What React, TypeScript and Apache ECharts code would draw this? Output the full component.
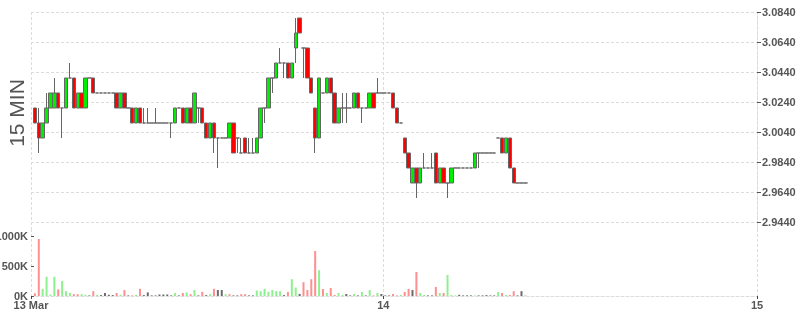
import React, { useEffect, useRef } from "react";
import * as echarts from "echarts";

// x axis is measured in 15-minute slots counted from 13 Mar 00:00
const AXIS_MIN = 5.5;
const AXIS_MAX = 192;
const FIRST_SLOT = 6;
const xTickValues = [5.5, 96, 192];
const xTickLabels = ["13 Mar", "14", "15"];
const priceTicks = [2.944, 2.964, 2.984, 3.004, 3.024, 3.044, 3.064, 3.084];
const volumeTicks = [0, 500, 1000];

// [open, close, low, high]
const ohlc: number[][] = [
  [3.02, 3.01, 3.01, 3.02], [3.01, 3.0, 2.99, 3.02], [3.0, 3.01, 3.0, 3.01], [3.01, 3.02, 3.01, 3.03],
  [3.02, 3.03, 3.02, 3.03], [3.02, 3.03, 3.02, 3.04], [3.03, 3.02, 3.02, 3.03], [3.02, 3.02, 3.0, 3.02],
  [3.02, 3.04, 3.02, 3.04], [3.04, 3.04, 3.04, 3.05], [3.04, 3.02, 3.02, 3.04], [3.02, 3.03, 3.02, 3.03],
  [3.03, 3.02, 3.02, 3.03], [3.02, 3.04, 3.02, 3.04], [3.04, 3.04, 3.04, 3.04], [3.04, 3.03, 3.03, 3.04],
  [3.03, 3.03, 3.03, 3.03], [3.03, 3.03, 3.03, 3.03], [3.03, 3.03, 3.03, 3.03], [3.03, 3.03, 3.03, 3.03],
  [3.03, 3.03, 3.03, 3.03], [3.03, 3.02, 3.02, 3.03], [3.02, 3.03, 3.02, 3.03], [3.03, 3.02, 3.02, 3.03],
  [3.02, 3.02, 3.02, 3.02], [3.02, 3.01, 3.01, 3.02], [3.01, 3.02, 3.01, 3.02], [3.02, 3.01, 3.01, 3.02],
  [3.01, 3.01, 3.01, 3.02], [3.01, 3.01, 3.01, 3.02], [3.01, 3.01, 3.01, 3.01], [3.01, 3.01, 3.01, 3.02],
  [3.01, 3.01, 3.01, 3.01], [3.01, 3.01, 3.01, 3.01], [3.01, 3.01, 3.01, 3.01], [3.01, 3.01, 3.0, 3.01],
  [3.01, 3.02, 3.01, 3.02], [3.02, 3.02, 3.02, 3.02], [3.02, 3.01, 3.01, 3.02], [3.01, 3.02, 3.01, 3.02],
  [3.02, 3.01, 3.01, 3.02], [3.01, 3.03, 3.01, 3.03], [3.02, 3.02, 3.01, 3.02], [3.02, 3.01, 3.01, 3.02],
  [3.01, 3.0, 3.0, 3.01], [3.0, 3.01, 3.0, 3.01], [3.01, 3.0, 2.99, 3.01], [3.0, 3.0, 2.98, 3.0],
  [3.0, 3.0, 3.0, 3.0], [3.0, 3.0, 3.0, 3.0], [3.0, 3.01, 3.0, 3.01], [3.01, 2.99, 2.99, 3.01],
  [3.0, 3.0, 2.99, 3.0], [2.99, 2.99, 2.99, 3.0], [3.0, 2.99, 2.99, 3.0], [2.99, 2.99, 2.99, 3.0],
  [2.99, 2.99, 2.99, 3.0], [2.99, 3.0, 2.99, 3.0], [3.0, 3.02, 3.0, 3.02], [3.02, 3.02, 3.01, 3.02],
  [3.02, 3.04, 3.02, 3.04], [3.04, 3.04, 3.03, 3.04], [3.04, 3.05, 3.04, 3.05], [3.05, 3.05, 3.05, 3.06],
  [3.05, 3.05, 3.04, 3.05], [3.05, 3.04, 3.04, 3.05], [3.04, 3.05, 3.04, 3.05], [3.06, 3.07, 3.05, 3.08],
  [3.08, 3.07, 3.07, 3.08], [3.06, 3.06, 3.04, 3.06], [3.06, 3.04, 3.04, 3.06], [3.04, 3.03, 3.03, 3.04],
  [3.02, 3.0, 2.99, 3.02], [3.0, 3.04, 3.0, 3.04], [3.03, 3.03, 3.03, 3.03], [3.03, 3.04, 3.03, 3.04],
  [3.04, 3.03, 3.03, 3.04], [3.03, 3.01, 3.01, 3.03], [3.01, 3.02, 3.01, 3.02], [3.02, 3.02, 3.01, 3.03],
  [3.02, 3.02, 3.01, 3.03], [3.02, 3.02, 3.02, 3.02], [3.02, 3.03, 3.02, 3.03], [3.03, 3.02, 3.02, 3.03],
  [3.02, 3.02, 3.01, 3.02], [3.02, 3.02, 3.02, 3.02], [3.02, 3.03, 3.02, 3.03], [3.03, 3.02, 3.02, 3.03],
  [3.03, 3.03, 3.03, 3.04], [3.03, 3.03, 3.03, 3.03], [3.03, 3.03, 3.03, 3.03], [3.03, 3.03, 3.03, 3.03],
  [3.03, 3.02, 3.02, 3.03], [3.02, 3.01, 3.01, 3.02], [3.01, 3.01, 3.01, 3.01], [3.0, 2.99, 2.99, 3.0],
  [2.99, 2.98, 2.98, 2.99], [2.97, 2.98, 2.97, 2.98], [2.98, 2.97, 2.96, 2.98], [2.97, 2.98, 2.97, 2.98],
  [2.98, 2.98, 2.98, 2.99], [2.98, 2.98, 2.98, 2.98], [2.98, 2.98, 2.98, 2.99], [2.99, 2.97, 2.97, 2.99],
  [2.97, 2.98, 2.97, 2.98], [2.98, 2.97, 2.97, 2.98], [2.97, 2.97, 2.96, 2.97], [2.97, 2.98, 2.97, 2.98],
  [2.98, 2.98, 2.98, 2.98], [2.98, 2.98, 2.98, 2.98], [2.98, 2.98, 2.98, 2.98], [2.98, 2.98, 2.98, 2.98],
  [2.98, 2.98, 2.98, 2.98], [2.98, 2.99, 2.98, 2.99], [2.99, 2.99, 2.98, 2.99], [2.99, 2.99, 2.99, 2.99],
  [2.99, 2.99, 2.99, 2.99], [2.99, 2.99, 2.99, 2.99], [2.99, 2.99, 2.99, 2.99], [3.0, 3.0, 3.0, 3.0],
  [3.0, 2.99, 2.99, 3.0], [2.99, 3.0, 2.99, 3.0], [3.0, 2.98, 2.98, 3.0], [2.98, 2.97, 2.97, 2.98],
  [2.97, 2.97, 2.97, 2.97], [2.97, 2.97, 2.97, 2.97], [2.97, 2.97, 2.97, 2.97],
];

// volume in thousands
const volumes: number[] = [
  45, 950, 117, 320, 25, 320, 110, 250, 80, 50,
  30, 30, 30, 20, 10, 80, 20, 15, 50, 20,
  15, 50, 20, 100, 10, 10, 20, 120, 15, 60,
  10, 10, 25, 25, 25, 10, 50, 10, 50, 60,
  30, 100, 10, 70, 15, 30, 120, 100, 100, 30,
  30, 10, 10, 30, 30, 10, 10, 90, 80, 120,
  70, 100, 80, 80, 15, 65, 280, 140, 35, 230,
  100, 280, 750, 430, 117, 50, 133, 17, 50, 17,
  33, 10, 33, 10, 67, 10, 100, 10, 50, 33,
  10, 10, 33, 10, 17, 67, 117, 100, 400, 50,
  17, 10, 10, 150, 50, 50, 350, 17, 10, 20,
  10, 10, 10, 10, 10, 10, 15, 10, 10, 67,
  50, 17, 17, 80, 10, 80, 5,
];

// u = up, d = down, n = unchanged
const volumeDir: string[] = [
  "dduuuuduuu",
  "dduundunnn",
  "ndudndudnn",
  "nnnnnnundu",
  "dundnudnnu",
  "dnnddnnuuu",
  "uuuunduund",
  "dddududduu",
  "nnununudun",
  "nndduddndu",
  "unnduduuun",
  "nnnunnnnnu",
  "duddnnn",
].join("").split("");

const VOL_COLORS: Record<string, string> = { u: "#8ef08e", d: "#ff8f8f", n: "#6b6b6b" };

const GRID_LINE = { color: "#dcdcdc", type: [3, 2] as number[], width: 1 };
const LABEL_FONT = {
  fontFamily: "'Liberation Sans', Arial, sans-serif",
  fontWeight: "bold" as const,
  fontSize: 11,
  color: "#555",
};

export default function App() {
  const ref = useRef<HTMLDivElement>(null);

  useEffect(() => {
    if (!ref.current) return;
    const chart = echarts.init(ref.current, undefined, { renderer: "svg" });

    const candleData = ohlc.map((d, i) => [FIRST_SLOT + i + 0.5, d[0], d[1], d[2], d[3]]);
    const volData = volumes.map((v, i) => ({
      value: [FIRST_SLOT + i + 0.5, v],
      itemStyle: { color: VOL_COLORS[volumeDir[i]] || VOL_COLORS.n },
    }));

    chart.setOption({
      animation: false,
      grid: [
        { left: 31, right: 43, top: 12, height: 217, outerBoundsMode: "none", containLabel: false },
        { left: 31, right: 43, top: 229, height: 67, outerBoundsMode: "none", containLabel: false },
      ],
      xAxis: [
        {
          type: "value",
          gridIndex: 0,
          min: AXIS_MIN,
          max: AXIS_MAX,
          axisLine: { show: false },
          axisTick: { show: false, customValues: xTickValues },
          axisLabel: { show: false, customValues: xTickValues },
          splitLine: { show: true, lineStyle: GRID_LINE },
        },
        {
          type: "value",
          gridIndex: 1,
          min: AXIS_MIN,
          max: AXIS_MAX,
          axisLine: { show: true, lineStyle: GRID_LINE },
          axisTick: { show: true, customValues: xTickValues, length: 3, lineStyle: { color: "#444" } },
          axisLabel: {
            ...LABEL_FONT,
            customValues: xTickValues,
            margin: 3,
            formatter: (v: number) => {
              const idx = xTickValues.findIndex((t) => Math.abs(t - v) < 1e-6);
              return idx >= 0 ? xTickLabels[idx] : "";
            },
          },
          splitLine: { show: true, lineStyle: GRID_LINE },
        },
      ],
      yAxis: [
        {
          type: "value",
          gridIndex: 0,
          position: "right",
          min: 2.93933,
          max: 3.084,
          axisLine: { show: true, lineStyle: GRID_LINE },
          axisTick: { show: true, customValues: priceTicks, length: 4, lineStyle: { color: "#555" } },
          axisLabel: {
            ...LABEL_FONT,
            customValues: priceTicks,
            margin: 5,
            formatter: (v: number) => v.toFixed(4),
          },
          splitLine: { show: true, lineStyle: GRID_LINE },
        },
        {
          type: "value",
          gridIndex: 1,
          position: "left",
          min: 0,
          max: 1116.7,
          axisLine: { show: false },
          axisTick: { show: true, inside: true, customValues: volumeTicks, length: 3, lineStyle: { color: "#555" } },
          axisLabel: {
            ...LABEL_FONT,
            customValues: volumeTicks,
            margin: 3,
            formatter: (v: number) => `${v}K`,
          },
          splitLine: { show: false },
        },
      ],
      graphic: [
        {
          type: "text",
          x: 16,
          y: 113,
          rotation: Math.PI / 2,
          style: {
            text: "15 MIN",
            fontSize: 21,
            fontFamily: "'Liberation Sans', Arial, sans-serif",
            fill: "#555",
            align: "center",
            verticalAlign: "middle",
          },
        },
      ],
      series: [
        {
          type: "candlestick",
          xAxisIndex: 0,
          yAxisIndex: 0,
          data: candleData,
          encode: { x: 0, y: [1, 2, 3, 4] },
          barWidth: 3.9,
          clip: true,
          itemStyle: {
            color: "#00ee00",
            color0: "#ff0000",
            borderColor: "#666",
            borderColor0: "#666",
            borderColorDoji: "#666",
            borderWidth: 1,
          },
        },
        {
          type: "bar",
          xAxisIndex: 1,
          yAxisIndex: 1,
          data: volData,
          barWidth: 2,
        },
      ],
    });

    return () => chart.dispose();
  }, []);

  return (
    <div
      ref={ref}
      style={{ position: "fixed", left: 0, top: 0, width: 800, height: 315 }}
    />
  );
}
